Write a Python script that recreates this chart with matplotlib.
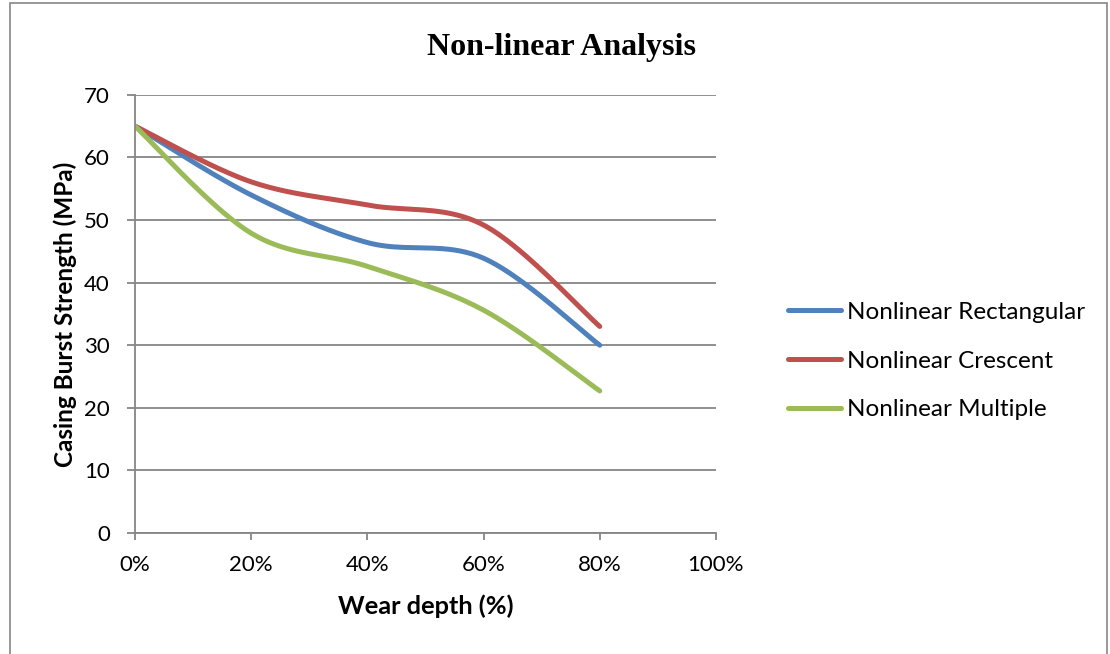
import numpy as np
import matplotlib.pyplot as plt
from matplotlib.patches import Rectangle
from matplotlib.ticker import PercentFormatter

wear = [0, 20, 40, 60, 80]
rectangular = [65, 54.0, 46.4, 43.9, 30.0]
crescent = [65, 56.1, 52.4, 49.2, 33.0]
multiple = [65, 47.9, 42.6, 35.6, 22.7]

labels = ['Nonlinear Rectangular', 'Nonlinear Crescent', 'Nonlinear Multiple']
colors = ['#4F81BD', '#C0504D', '#9BBB59']


def smooth(x, y, n=40):
    # catmull-rom style smoothing, like a spreadsheet "smoothed line"
    x = np.asarray(x, float)
    y = np.asarray(y, float)
    px = np.concatenate([[x[0]], x, [x[-1]]])
    py = np.concatenate([[y[0]], y, [y[-1]]])
    xs, ys = [], []
    t = np.linspace(0, 1, n)
    h00 = 2*t**3 - 3*t**2 + 1
    h10 = t**3 - 2*t**2 + t
    h01 = -2*t**3 + 3*t**2
    h11 = t**3 - t**2
    for i in range(1, len(px) - 2):
        mx0 = (px[i+1] - px[i-1]) / 2
        mx1 = (px[i+2] - px[i]) / 2
        my0 = (py[i+1] - py[i-1]) / 2
        my1 = (py[i+2] - py[i]) / 2
        xs.append(h00*px[i] + h10*mx0 + h01*px[i+1] + h11*mx1)
        ys.append(h00*py[i] + h10*my0 + h01*py[i+1] + h11*my1)
    return np.concatenate(xs), np.concatenate(ys)


font = 'Lato'
grey = '#868686'

fig = plt.figure(figsize=(11.1, 6.54), dpi=100)
ax = fig.add_axes([0.1216, 0.185, 0.5234, 0.670])

for series, lab, col in zip([rectangular, crescent, multiple], labels, colors):
    sx, sy = smooth(wear, series)
    ax.plot(sx, sy, color=col, lw=3.6, solid_capstyle='round', label=lab)

ax.set_xlim(0, 100)
ax.set_ylim(0, 70)
ax.set_xticks(range(0, 101, 20))
ax.set_yticks(range(0, 71, 10))
ax.xaxis.set_major_formatter(PercentFormatter(decimals=0))
ax.grid(axis='y', color=grey, lw=1.3)
ax.set_axisbelow(True)
for s in ['top', 'right']:
    ax.spines[s].set_visible(False)
for s in ['left', 'bottom']:
    ax.spines[s].set_color(grey)
    ax.spines[s].set_linewidth(1.3)
ax.tick_params(axis='both', color=grey, width=1.3, labelsize=16)
ax.tick_params(axis='x', length=5, pad=11)
ax.tick_params(axis='y', length=5.5, pad=12.5)
for lbl in ax.get_xticklabels() + ax.get_yticklabels():
    lbl.set_fontfamily(font)

ax.set_xlabel('Wear depth (%)', fontfamily=font, fontweight='bold', fontsize=18.3, labelpad=14)
ax.set_ylabel('Casing Burst Strength (MPa)', fontfamily=font, fontweight='bold', fontsize=17.5, labelpad=5)

fig.text(0.5055, 0.928, 'Non-linear Analysis', ha='center', va='center',
         fontfamily='Liberation Serif', fontweight='bold', fontsize=23)

ax.legend(loc='center left', bbox_to_anchor=(0.690, 0.448), bbox_transform=fig.transFigure,
          frameon=False, prop={'family': font, 'size': 17.5},
          handlelength=2.2, handletextpad=0.25, labelspacing=1.14)

fig.add_artist(Rectangle((0.009, -0.01), 0.988, 1.006, transform=fig.transFigure,
                         fill=False, edgecolor=grey, lw=1.2))

fig.savefig('out.png', dpi=100)
